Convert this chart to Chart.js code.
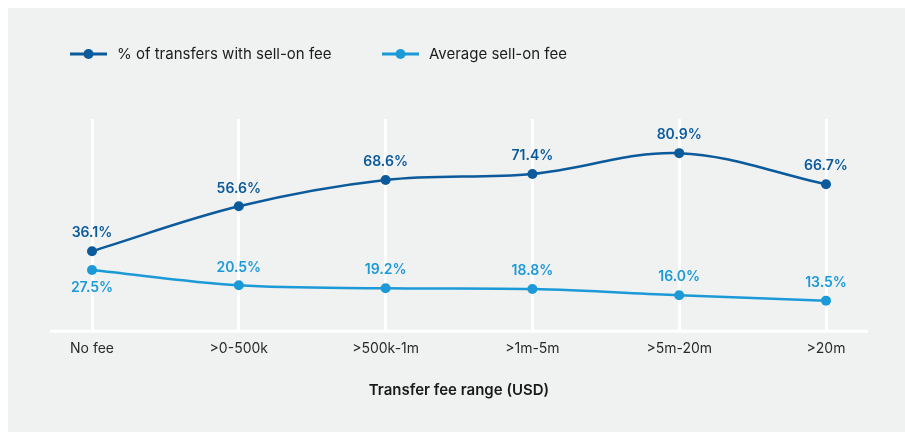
<!DOCTYPE html>
<html>
<head>
<meta charset="utf-8">
<script src="https://cdn.jsdelivr.net/npm/chart.js@4.4.0/dist/chart.umd.min.js"></script>
<style>
  html, body { margin: 0; padding: 0; background: #ffffff; }
  #wrap { width: 905px; height: 434px; position: relative; }
</style>
</head>
<body>
<div id="wrap"><canvas id="chartFees" width="905" height="434"></canvas></div>
<script>
// ============ DATA ============
var categories = ['No fee', '>0-500k', '>500k-1m', '>1m-5m', '>5m-20m', '>20m'];
var pctWithFee = [36.1, 56.6, 68.6, 71.4, 80.9, 66.7];
var avgFee     = [27.5, 20.5, 19.2, 18.8, 16.0, 13.5];
var seriesNames = ['% of transfers with sell-on fee', 'Average sell-on fee'];

var DARK  = '#0b5a9b';
var LIGHT = '#1b9ad7';
var PANEL = '#f0f1f1';
var FONT  = "'Inter', 'Noto Sans', sans-serif";

// background panel, baseline, legend
var decorPlugin = {
  id: 'decor',
  beforeDraw: function(chart) {
    var ctx = chart.ctx;
    ctx.save();
    ctx.fillStyle = PANEL;
    ctx.fillRect(8, 8, chart.width - 8, chart.height - 10);
    ctx.restore();
  },
  beforeDatasetsDraw: function(chart) {
    var ctx = chart.ctx, a = chart.chartArea;
    ctx.save();
    ctx.strokeStyle = '#ffffff';
    ctx.lineWidth = 3;
    ctx.beginPath();
    ctx.moveTo(a.left - 42, a.bottom + 1);
    ctx.lineTo(a.right + 42, a.bottom + 1);
    ctx.stroke();
    ctx.restore();
  },
  afterDraw: function(chart) {
    var ctx = chart.ctx;
    var items = [
      { x: 70, color: DARK, text: seriesNames[0] },
      { x: 382, color: LIGHT, text: seriesNames[1] }
    ];
    ctx.save();
    items.forEach(function(it) {
      var y = 54;
      ctx.strokeStyle = it.color;
      ctx.lineWidth = 3;
      ctx.beginPath();
      ctx.moveTo(it.x, y);
      ctx.lineTo(it.x + 37, y);
      ctx.stroke();
      ctx.fillStyle = it.color;
      ctx.beginPath();
      ctx.arc(it.x + 18.5, y, 5, 0, Math.PI * 2);
      ctx.fill();
      ctx.fillStyle = '#1c1c1c';
      ctx.font = '400 15px ' + FONT;
      ctx.textAlign = 'left';
      ctx.textBaseline = 'middle';
      ctx.fillText(it.text, it.x + 47, y);
    });
    ctx.restore();
  }
};

// value labels above / below points
var labelPlugin = {
  id: 'valueLabels',
  afterDatasetsDraw: function(chart) {
    var ctx = chart.ctx;
    ctx.save();
    ctx.font = '600 14px ' + FONT;
    ctx.textAlign = 'center';
    ctx.textBaseline = 'middle';
    chart.data.datasets.forEach(function(ds, di) {
      var meta = chart.getDatasetMeta(di);
      ctx.fillStyle = ds.borderColor;
      meta.data.forEach(function(pt, i) {
        var below = (di === 1 && i === 0);
        var y = below ? pt.y + 18 : pt.y - 18;
        ctx.fillText(ds.data[i].toFixed(1) + '%', pt.x, y);
      });
    });
    ctx.restore();
  }
};

new Chart(document.getElementById('chartFees'), {
  type: 'line',
  data: {
    labels: categories,
    datasets: [{
      label: seriesNames[0],
      data: pctWithFee,
      borderColor: DARK,
      backgroundColor: DARK,
      borderWidth: 2.5,
      pointRadius: 5,
      pointHoverRadius: 5,
      pointBorderWidth: 0,
      tension: 0.35
    }, {
      label: seriesNames[1],
      data: avgFee,
      borderColor: LIGHT,
      backgroundColor: LIGHT,
      borderWidth: 2.5,
      pointRadius: 5,
      pointHoverRadius: 5,
      pointBorderWidth: 0,
      tension: 0.35
    }]
  },
  options: {
    responsive: false,
    animation: false,
    clip: false,
    layout: { padding: { left: 92, right: 79, top: 119, bottom: 35 } },
    plugins: {
      legend: { display: false },
      tooltip: { enabled: false }
    },
    scales: {
      x: {
        offset: false,
        grid: { color: '#ffffff', lineWidth: 3, tickLength: 0, drawTicks: false },
        border: { display: false },
        ticks: { color: '#2a2a2a', padding: 10, font: { family: FONT, size: 14 } },
        title: {
          display: true,
          text: 'Transfer fee range (USD)',
          color: '#1a1a1a',
          font: { family: FONT, size: 15, weight: '600' },
          padding: { top: 14, bottom: 0 }
        }
      },
      y: {
        display: false,
        min: 0,
        max: 96.5
      }
    }
  },
  plugins: [decorPlugin, labelPlugin]
});
</script>
</body>
</html>
